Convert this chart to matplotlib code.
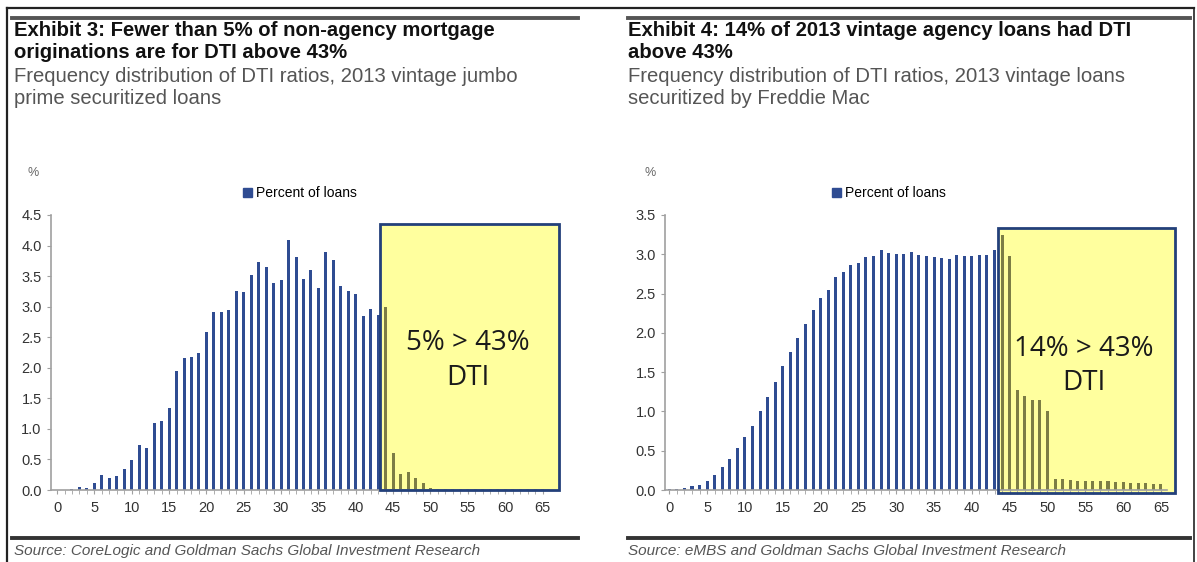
import numpy as np
import matplotlib
matplotlib.use("Agg")
import matplotlib.pyplot as plt
from matplotlib.lines import Line2D
from matplotlib.patches import Patch, Rectangle

# DTI ratio (%) on x, percent of loans on y
jumbo_pct = [0.0, 0.0, 0.02, 0.05, 0.03, 0.11, 0.25, 0.19, 0.23, 0.35, 0.49, 0.73, 0.68, 1.10, 1.13,
             1.34, 1.94, 2.16, 2.18, 2.25, 2.58, 2.91, 2.91, 2.95, 3.26, 3.24, 3.52, 3.73, 3.65, 3.38,
             3.44, 4.09, 3.82, 3.45, 3.60, 3.31, 3.90, 3.76, 3.34, 3.26, 3.20, 2.84, 2.96, 2.87, 2.99,
             0.60, 0.26, 0.30, 0.20, 0.11, 0.03, 0.02, 0.02, 0.01, 0.01, 0.01, 0.01, 0.01, 0.01, 0.01,
             0.01, 0.01, 0.01, 0.01, 0.01, 0.01]
freddie_pct = [0.01, 0.01, 0.03, 0.055, 0.07, 0.11, 0.19, 0.29, 0.39, 0.53, 0.67, 0.82, 1.00, 1.19, 1.38,
               1.58, 1.76, 1.94, 2.11, 2.29, 2.45, 2.55, 2.71, 2.77, 2.86, 2.89, 2.96, 2.98, 3.05, 3.02,
               3.01, 3.01, 3.03, 2.99, 2.98, 2.96, 2.95, 2.94, 2.99, 2.98, 2.98, 2.99, 2.99, 3.05, 3.25,
               2.98, 1.27, 1.20, 1.15, 1.14, 1.00, 0.14, 0.14, 0.13, 0.12, 0.12, 0.11, 0.11, 0.11, 0.10,
               0.10, 0.09, 0.09, 0.09, 0.08, 0.08]

titles = [["Exhibit 3: Fewer than 5% of non-agency mortgage", "originations are for DTI above 43%"],
          ["Exhibit 4: 14% of 2013 vintage agency loans had DTI", "above 43%"]]
subtitles = [["Frequency distribution of DTI ratios, 2013 vintage jumbo", "prime securitized loans"],
             ["Frequency distribution of DTI ratios, 2013 vintage loans", "securitized by Freddie Mac"]]
sources = ["Source: CoreLogic and Goldman Sachs Global Investment Research",
           "Source: eMBS and Goldman Sachs Global Investment Research"]
box_labels = ["5% > 43%\nDTI", "14% > 43%\nDTI"]
box_start = 43.3

W, H = 1197, 562
fx = lambda p: p / W
fy = lambda p: 1 - p / H

font = ["Liberation Sans", "DejaVu Sans"]
bar_col = "#2F4C92"
olive = "#7C7D45"

fig = plt.figure(figsize=(W / 100, H / 100), dpi=100)

# outer frame
fig.add_artist(Line2D([fx(7), fx(1194)], [fy(8), fy(8)], color="#222222", lw=1.6))
fig.add_artist(Line2D([fx(7), fx(7)], [fy(8), fy(562)], color="#222222", lw=1.6))
fig.add_artist(Line2D([fx(1194), fx(1194)], [fy(8), fy(562)], color="#222222", lw=1.2))

panels = [
    dict(data=jumbo_pct, x0=12, x1=578, tx=14, ax_left=50.7, ax_w=497.8, ymax=4.5,
         yticks=np.arange(0, 4.51, 0.5), xlim=(-0.85, 65.8), box=(box_start, 0, 23.9, 4.36),
         lab=(55.0, 2.12), leg_x=300, pct_x=33),
    dict(data=freddie_pct, x0=628, x1=1190, tx=628, ax_left=665, ax_w=502, ymax=3.5,
         yticks=np.arange(0, 3.51, 0.5), xlim=(-0.57, 65.8), box=(43.4, -0.04, 23.4, 3.37),
         lab=(54.8, 1.58), leg_x=889, pct_x=650),
]

for i, p in enumerate(panels):
    # heading rules
    fig.add_artist(Line2D([fx(p["x0"]), fx(p["x1"])], [fy(18), fy(18)], color="#555555", lw=2.8))
    fig.add_artist(Line2D([fx(p["x0"]), fx(p["x1"])], [fy(538), fy(538)], color="#333333", lw=2.8))

    for line, yy in zip(titles[i], [31, 53]):
        fig.text(fx(p["tx"]), fy(yy), line, ha="left", va="center", fontsize=14.6,
                 fontweight="bold", family=font, color="#111111")
    for line, yy in zip(subtitles[i], [76, 98]):
        fig.text(fx(p["tx"]), fy(yy), line, ha="left", va="center", fontsize=14.6,
                 family=font, color="#555555")
    fig.text(fx(p["tx"]), fy(551), sources[i], ha="left", va="center", fontsize=11,
             style="italic", family=font, color="#555555")
    fig.text(fx(p["pct_x"]), fy(173), "%", ha="center", va="center", fontsize=9,
             family=font, color="#666666")

    ax = fig.add_axes([fx(p["ax_left"]), fy(490), fx(p["ax_w"]), (490 - 215) / H])
    x = np.arange(len(p["data"]))
    bx, by, bw, bh = p["box"]
    cols = [olive if xi > bx else bar_col for xi in x]
    ax.bar(x, p["data"], width=0.4, color=cols, zorder=2)
    ax.set_xlim(*p["xlim"])
    ax.set_ylim(0, p["ymax"])
    ax.set_yticks(p["yticks"])
    ax.set_yticklabels([f"{v:.1f}" for v in p["yticks"]])
    ax.set_xticks(np.arange(0, 66, 5))
    ax.set_xticks(np.arange(0, 66, 1), minor=True)
    for s in ["top", "right"]:
        ax.spines[s].set_visible(False)
    for s in ["left", "bottom"]:
        ax.spines[s].set_color("#A0A0A0")
        ax.spines[s].set_linewidth(1.2)
    ax.tick_params(axis="both", which="both", direction="out", length=3, color="#A0A0A0",
                   labelcolor="#333333", labelsize=10.5)
    ax.tick_params(axis="x", which="major", pad=5)
    for t in ax.get_xticklabels() + ax.get_yticklabels():
        t.set_family(font)

    # highlighted region: fill behind bars, outline on top
    ax.add_patch(Rectangle((bx, by), bw, bh, facecolor="#FFFF9E", edgecolor="none",
                           clip_on=False, zorder=1))
    ax.add_patch(Rectangle((bx, by), bw, bh, facecolor="none", edgecolor="#23407A",
                           lw=2, clip_on=False, zorder=3))
    ax.text(p["lab"][0], p["lab"][1], box_labels[i], ha="center", va="center", fontsize=20,
            family=["Open Sans", "DejaVu Sans"], color="#1a1a1a", linespacing=1.3, zorder=4)

    ax.legend(handles=[Patch(color=bar_col)], labels=["Percent of loans"], loc="center",
              bbox_to_anchor=(fx(p["leg_x"]), fy(193)), bbox_transform=fig.transFigure,
              frameon=False, handlelength=0.6, handleheight=0.6, handletextpad=0.3,
              prop={"family": font, "size": 10})

fig.savefig("out.png", dpi=100, facecolor="white")
